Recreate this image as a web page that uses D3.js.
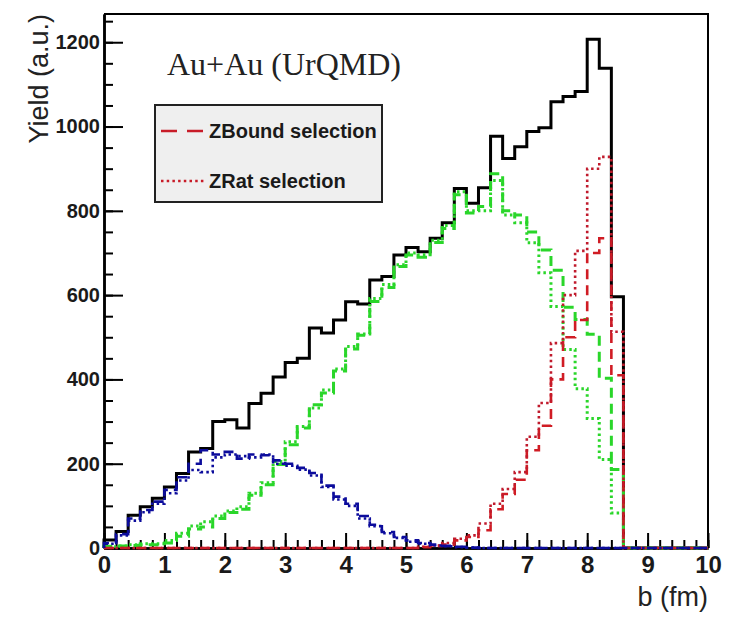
<!DOCTYPE html>
<html>
<head>
<meta charset="utf-8">
<script src="https://cdn.jsdelivr.net/npm/d3@7"></script>
<style>
  body { margin: 0; background: #fff; }
  svg { display: block; }
</style>
</head>
<body>
<svg id="chart" width="734" height="617"></svg>
<script>
// Impact parameter b: 50 bins of 0.2 fm from 0 to 10 fm
const bMin = 0, bMax = 10, nBins = 50;
const binLow = d3.range(nBins).map(i => +(bMin + i * (bMax - bMin) / nBins).toFixed(2));

// Yield per bin, all events
const allEvents = [19, 39, 78, 98, 118, 145, 177, 228, 236, 300,
  304, 285, 343, 367, 406, 440, 450, 522, 510, 541,
  584, 579, 636, 644, 695, 713, 703, 735, 772, 853,
  818, 855, 977, 924, 952, 988, 997, 1059, 1071, 1083,
  1207, 1138, 596, 0, 0, 0, 0, 0, 0, 0];

// ZBound selection: central / mid-central / peripheral classes
const zboundCentral = [12, 33, 70, 90, 110, 138, 168, 200, 232, 222,
  228, 212, 222, 220, 208, 200, 190, 178, 148, 122,
  105, 76, 55, 38, 26, 18, 12, 8, 5, 3,
  1, 0, 0, 0, 0, 0, 0, 0, 0, 0,
  0, 0, 0, 0, 0, 0, 0, 0, 0, 0];
const zboundMid = [4, 5, 6, 8, 8, 12, 28, 45, 50, 70,
  84, 92, 125, 150, 198, 245, 285, 340, 368, 420,
  472, 505, 585, 618, 668, 695, 690, 725, 758, 838,
  795, 810, 888, 800, 790, 750, 707, 659, 571, 542,
  507, 403, 186, 0, 0, 0, 0, 0, 0, 0];
const zboundPeripheral = [0, 0, 0, 0, 0, 0, 0, 0, 0, 0,
  0, 0, 0, 0, 0, 0, 0, 0, 0, 0,
  0, 0, 0, 0, 0, 0, 2, 5, 8, 18,
  26, 42, 92, 128, 162, 232, 290, 400, 500, 541,
  700, 735, 410, 0, 0, 0, 0, 0, 0, 0];

// ZRat selection: central / mid-central / peripheral classes
const zratCentral = [10, 30, 65, 85, 105, 130, 160, 185, 180, 215,
  222, 218, 215, 222, 200, 195, 186, 172, 145, 115,
  100, 70, 52, 35, 24, 15, 10, 6, 4, 2,
  1, 0, 0, 0, 0, 0, 0, 0, 0, 0,
  0, 0, 0, 0, 0, 0, 0, 0, 0, 0];
const zratMid = [3, 5, 8, 10, 10, 18, 35, 52, 62, 76,
  88, 98, 130, 155, 205, 252, 288, 332, 375, 425,
  478, 508, 592, 625, 672, 700, 696, 730, 765, 845,
  800, 800, 872, 790, 772, 724, 653, 573, 471, 378,
  307, 210, 83, 0, 0, 0, 0, 0, 0, 0];
const zratPeripheral = [0, 0, 0, 0, 0, 0, 0, 0, 0, 0,
  0, 0, 0, 0, 0, 0, 0, 0, 0, 0,
  0, 0, 0, 0, 0, 0, 3, 6, 12, 22,
  30, 58, 105, 140, 180, 264, 344, 486, 600, 705,
  900, 928, 513, 0, 0, 0, 0, 0, 0, 0];

const xTickLabels = [0, 1, 2, 3, 4, 5, 6, 7, 8, 9, 10];
const yTickLabels = [0, 200, 400, 600, 800, 1000, 1200];
const xMinorTicks = d3.range(0, 51).map(i => +(i * 0.2).toFixed(1));
const yMinorTicks = d3.range(0, 26).map(i => i * 50);

const legendEntries = [
  { label: "ZBound selection", dash: "16,10" },
  { label: "ZRat selection", dash: "2.5,3.2" }
];

const svg = d3.select("#chart");
svg.append("rect").attr("width", 734).attr("height", 617).attr("fill", "#fff");

const plotLeft = 104, plotRight = 708, plotTop = 14, plotBottom = 548;
const x = d3.scaleLinear().domain([bMin, bMax]).range([plotLeft, plotRight]);
const y = d3.scaleLinear().domain([0, 1267]).range([plotBottom, plotTop]);

// Frame
svg.append("path")
  .attr("d", `M${plotLeft},${plotTop}H${plotRight}V${plotBottom}`)
  .attr("fill", "none").attr("stroke", "#000").attr("stroke-width", 2);

// X axis: minor ticks then major ticks with labels
const gxMinor = svg.append("g").attr("transform", `translate(0,${plotBottom})`)
  .call(d3.axisBottom(x).tickValues(xMinorTicks).tickSize(-8).tickSizeOuter(0).tickFormat(""));
const gx = svg.append("g").attr("transform", `translate(0,${plotBottom})`)
  .call(d3.axisBottom(x).tickValues(xTickLabels).tickSize(-15).tickSizeOuter(0).tickPadding(8).tickFormat(d3.format("d")));

// Y axis
const gyMinor = svg.append("g").attr("transform", `translate(${plotLeft},0)`)
  .call(d3.axisLeft(y).tickValues(yMinorTicks).tickSize(-9).tickSizeOuter(0).tickFormat(""));
const gy = svg.append("g").attr("transform", `translate(${plotLeft},0)`)
  .call(d3.axisLeft(y).tickValues(yTickLabels).tickSize(-19).tickSizeOuter(0).tickPadding(4).tickFormat(d3.format("d")));

[gxMinor, gx, gyMinor, gy].forEach(g => {
  g.selectAll(".tick line").attr("stroke", "#000").attr("stroke-width", 2);
  g.select(".domain").attr("stroke", "#000").attr("stroke-width", 2.5);
});
gx.selectAll(".tick text")
  .attr("font-family", "'Liberation Sans', Arial, sans-serif")
  .attr("font-size", 24).attr("font-weight", "bold").attr("fill", "#1a1a1a");
gy.selectAll(".tick text")
  .attr("font-family", "'Liberation Sans', Arial, sans-serif")
  .attr("font-size", 20).attr("font-weight", "bold").attr("fill", "#1a1a1a");

// Axis titles
svg.append("text")
  .attr("transform", `translate(48,${plotTop}) rotate(-90)`)
  .attr("text-anchor", "end")
  .attr("font-family", "'Liberation Sans', Arial, sans-serif")
  .attr("font-size", 27).attr("fill", "#222")
  .text("Yield (a.u.)");
svg.append("text")
  .attr("x", plotRight).attr("y", 606)
  .attr("text-anchor", "end")
  .attr("font-family", "'Liberation Sans', Arial, sans-serif")
  .attr("font-size", 27).attr("fill", "#222")
  .text("b (fm)");

// Histogram outline as a step path
const stepLine = d3.line().x(d => x(d[0])).y(d => y(d[1])).curve(d3.curveStepAfter);
function histPath(values) {
  const pts = [[bMin, 0]];
  values.forEach((v, i) => pts.push([binLow[i], v]));
  pts.push([bMax, values[values.length - 1]]);
  pts.push([bMax, 0]);
  return stepLine(pts);
}

const series = [
  { values: allEvents, color: "#000", width: 3, dash: null },
  { values: zboundMid, color: "#2ad62a", width: 3, dash: "10,6" },
  { values: zratMid, color: "#2ad62a", width: 3, dash: "2.5,3.2" },
  { values: zboundPeripheral, color: "#d01c24", width: 2.6, dash: "10,6" },
  { values: zratPeripheral, color: "#c01a2c", width: 2.6, dash: "2.5,3.2" },
  { values: zboundCentral, color: "#0c0c9c", width: 2.6, dash: "10,6" },
  { values: zratCentral, color: "#0c0c9c", width: 2.6, dash: "2.5,3.2" }
];

svg.append("g").selectAll("path").data(series).join("path")
  .attr("d", d => histPath(d.values))
  .attr("fill", "none")
  .attr("stroke", d => d.color)
  .attr("stroke-width", d => d.width)
  .attr("stroke-dasharray", d => d.dash)
  .attr("stroke-linejoin", "miter");

// Title label
svg.append("text")
  .attr("x", 167).attr("y", 75)
  .attr("font-family", "'Liberation Serif', 'Times New Roman', serif")
  .attr("font-size", 32).attr("fill", "#222")
  .text("Au+Au (UrQMD)");

// Legend
const legend = svg.append("g");
legend.append("rect")
  .attr("x", 155).attr("y", 105).attr("width", 227).attr("height", 97)
  .attr("fill", "#efefef").attr("stroke", "#222").attr("stroke-width", 2);
const rowY = [131, 181];
legendEntries.forEach((e, i) => {
  legend.append("line")
    .attr("x1", 161).attr("x2", 206).attr("y1", rowY[i]).attr("y2", rowY[i])
    .attr("stroke", "#c81c28").attr("stroke-width", 2.6)
    .attr("stroke-dasharray", e.dash);
  legend.append("text")
    .attr("x", 209).attr("y", rowY[i] + 7)
    .attr("font-family", "'Liberation Sans', Arial, sans-serif")
    .attr("font-size", 20).attr("font-weight", "bold").attr("fill", "#1a1a1a")
    .text(e.label);
});
</script>
</body>
</html>
